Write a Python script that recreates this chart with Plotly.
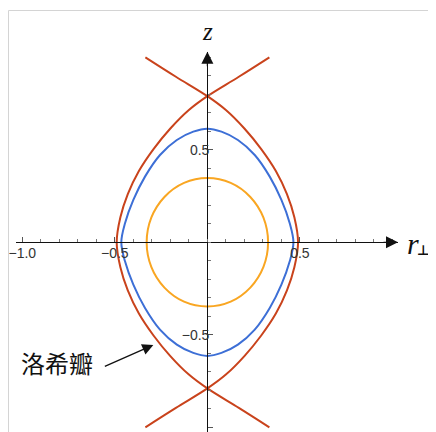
import plotly.graph_objects as go

# points, (r_perp, z)
# roche lobe, left arc (passes through -0.49 at z=0)
lobe_left_r = [0.335, 0.17, 0.0, -0.10, -0.20, -0.29, -0.37, -0.43, -0.47, -0.49,
               -0.47, -0.43, -0.37, -0.29, -0.20, -0.10, 0.0, 0.17, 0.335]
lobe_left_z = [1.0, 0.895, 0.79, 0.715, 0.615, 0.505, 0.385, 0.26, 0.135, 0.0,
               -0.135, -0.26, -0.385, -0.505, -0.615, -0.715, -0.79, -0.895, -1.0]
# roche lobe, right arc
lobe_right_r = [-0.335, -0.17, 0.0, 0.10, 0.20, 0.29, 0.37, 0.43, 0.47, 0.49,
                0.47, 0.43, 0.37, 0.29, 0.20, 0.10, 0.0, -0.17, -0.335]
lobe_right_z = [1.0, 0.895, 0.79, 0.715, 0.615, 0.505, 0.385, 0.26, 0.135, 0.0,
                -0.135, -0.26, -0.385, -0.505, -0.615, -0.715, -0.79, -0.895, -1.0]

# blue surface
blue_r = [0.0, -0.076, -0.165, -0.256, -0.337, -0.40, -0.445, -0.465, -0.445, -0.40,
          -0.337, -0.256, -0.165, -0.076, 0.0, 0.076, 0.165, 0.256, 0.337, 0.40,
          0.445, 0.465, 0.445, 0.40, 0.337, 0.256, 0.165, 0.076, 0.0]
blue_z = [0.614, 0.598, 0.553, 0.472, 0.355, 0.229, 0.103, 0.0, -0.103, -0.229,
          -0.355, -0.472, -0.553, -0.598, -0.614, -0.598, -0.553, -0.472, -0.355, -0.229,
          -0.103, 0.0, 0.103, 0.229, 0.355, 0.472, 0.553, 0.598, 0.614]

# orange surface
orange_r = [0.0, -0.126, -0.232, -0.303, -0.328, -0.303, -0.232, -0.126, 0.0,
            0.126, 0.232, 0.303, 0.328, 0.303, 0.232, 0.126, 0.0]
orange_z = [0.347, 0.321, 0.245, 0.133, 0.0, -0.133, -0.245, -0.321, -0.347,
            -0.321, -0.245, -0.133, 0.0, 0.133, 0.245, 0.321, 0.347]

tick_vals = [-1.0, -0.5, 0.5]
tick_text = ["\u22121.0", "\u22120.5", "0.5"]

red = "#C9431C"
blue = "#3D6FD6"
orange = "#F9A622"

fig = go.Figure()

fig.add_trace(go.Scatter(x=orange_r, y=orange_z, mode="lines",
                         line=dict(color=orange, width=2, shape="spline", smoothing=1)))
fig.add_trace(go.Scatter(x=blue_r, y=blue_z, mode="lines",
                         line=dict(color=blue, width=2, shape="spline", smoothing=1)))
fig.add_trace(go.Scatter(x=lobe_left_r, y=lobe_left_z, mode="lines",
                         line=dict(color=red, width=2, shape="spline", smoothing=1)))
fig.add_trace(go.Scatter(x=lobe_right_r, y=lobe_right_z, mode="lines",
                         line=dict(color=red, width=2, shape="spline", smoothing=1)))

# the page body has an 8px margin, so figure pixels = window pixels - 8
W, H = 428, 424
ox, oy = 199.3, 234.3   # origin in figure pixels

axis_common = dict(
    showline=True, linecolor="#111", linewidth=1.2,
    ticks="inside", ticklen=5, tickwidth=1, tickcolor="#555",
    tickvals=tick_vals, ticktext=tick_text,
    minor=dict(dtick=0.1, tick0=0, ticks="inside", ticklen=3, tickwidth=1, tickcolor="#777"),
    showgrid=False, zeroline=False, anchor="free", automargin=False,
    tickfont=dict(family="Liberation Sans", size=14, color="#333"),
)

fig.update_layout(
    width=W, height=H,
    margin=dict(l=0, r=0, t=0, b=0, pad=0, autoexpand=False),
    paper_bgcolor="white", plot_bgcolor="white",
    showlegend=False,
    xaxis=dict(domain=[8 / W, 390 / W], range=[-1.034, 1.03],
               position=(H - oy) / H, ticklabelstandoff=-2, **axis_common),
    yaxis=dict(domain=[0, (H - 43.7) / H], range=[-1.0254, 1.0303],
               position=ox / W, ticklabelstandoff=-5, **axis_common),
)

# axis arrows
fig.add_annotation(x=1.03, y=0, ax=-16, ay=0, text="", showarrow=True,
                   arrowhead=2, arrowsize=2, arrowwidth=1.2, arrowcolor="#111")
fig.add_annotation(x=0, y=1.0303, ax=0, ay=16, text="", showarrow=True,
                   arrowhead=2, arrowsize=2, arrowwidth=1.2, arrowcolor="#111")

# axis titles
fig.add_annotation(xref="paper", yref="paper", x=199.6 / W, y=(H - 24) / H,
                   xanchor="center", yanchor="middle",
                   text="<i>z</i>", showarrow=False,
                   font=dict(family="Liberation Serif", size=25, color="#111"))
fig.add_annotation(xref="paper", yref="paper", x=398 / W, y=(H - 235) / H,
                   xanchor="left", yanchor="middle", borderpad=0,
                   text="<i>r</i>", showarrow=False,
                   font=dict(family="Liberation Serif", size=30, color="#111"))
fig.add_annotation(xref="paper", yref="paper", x=415 / W, y=(H - 242) / H,
                   xanchor="center", yanchor="middle", borderpad=0,
                   text="<b>\u22a5</b>", showarrow=False,
                   font=dict(family="DejaVu Sans", size=14, color="#111"))

# label with arrow
fig.add_annotation(x=-0.292, y=-0.555, ax=-50, ay=22, text="", showarrow=True,
                   arrowhead=2, arrowsize=1.7, arrowwidth=1.3, arrowcolor="#111")
fig.add_annotation(xref="paper", yref="paper", x=49 / W, y=(H - 354) / H,
                   xanchor="center", yanchor="middle",
                   text="洛希瓣", showarrow=False,
                   font=dict(family="Noto Sans CJK SC", size=24, color="#111"))

# light frame
fig.add_shape(type="line", xref="paper", yref="paper", x0=0.5 / W, x1=1.05,
              y0=(H - 2.5) / H, y1=(H - 2.5) / H, line=dict(color="#d4d4d4", width=1))
fig.add_shape(type="line", xref="paper", yref="paper", x0=0.5 / W, x1=0.5 / W,
              y0=(H - 2.5) / H, y1=-0.05, line=dict(color="#d4d4d4", width=1))

fig.write_html("out.html")
